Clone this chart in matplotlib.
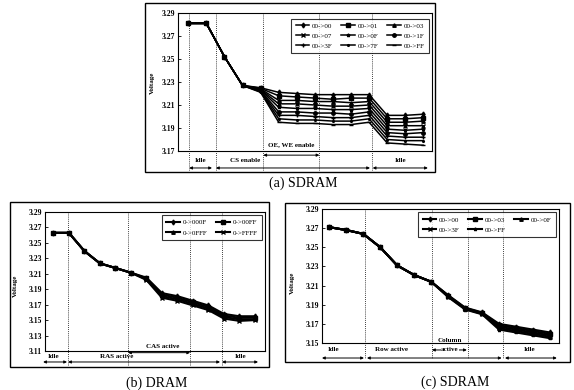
import matplotlib.pyplot as plt
import matplotlib.transforms as mtransforms
from matplotlib.patches import Rectangle

W, H = 574, 390
plt.rcParams['font.family'] = ['Liberation Serif', 'DejaVu Serif']

# ---- data (a) SDRAM, 00 -> xx
steps = list(range(14))
a_labels = ['00->00', '00->01', '00->03', '00->07', '00->0F',
            '00->1F', '00->3F', '00->7F', '00->FF']
a_start = [3.281, 3.281, 3.252, 3.227]
a_rest = [
    [3.2250, 3.221, 3.220, 3.219, 3.219, 3.219, 3.219, 3.201, 3.201, 3.202],
    [3.2245, 3.218, 3.217, 3.216, 3.215, 3.216, 3.216, 3.198, 3.198, 3.199],
    [3.2240, 3.214, 3.214, 3.213, 3.213, 3.212, 3.213, 3.195, 3.195, 3.196],
    [3.2235, 3.211, 3.211, 3.210, 3.209, 3.209, 3.210, 3.192, 3.192, 3.192],
    [3.2230, 3.208, 3.207, 3.207, 3.206, 3.206, 3.207, 3.189, 3.188, 3.189],
    [3.2225, 3.204, 3.204, 3.203, 3.203, 3.202, 3.204, 3.186, 3.185, 3.186],
    [3.2220, 3.201, 3.201, 3.200, 3.199, 3.199, 3.201, 3.183, 3.182, 3.182],
    [3.2215, 3.198, 3.197, 3.197, 3.196, 3.196, 3.198, 3.180, 3.179, 3.179],
    [3.2210, 3.195, 3.194, 3.194, 3.193, 3.193, 3.195, 3.177, 3.176, 3.175],
]

# ---- data (b) DRAM, 0 -> xxxx
b_labels = ['0->000F', '0->00FF', '0->0FFF', '0->FFFF']
b_start = [3.263, 3.263, 3.2395, 3.2235, 3.2175, 3.2114]
b_rest = [
    [3.205, 3.185, 3.181, 3.175, 3.169, 3.158, 3.155, 3.155],
    [3.204, 3.183, 3.179, 3.173, 3.167, 3.156, 3.153, 3.153],
    [3.203, 3.181, 3.177, 3.171, 3.165, 3.154, 3.151, 3.151],
    [3.202, 3.179, 3.175, 3.169, 3.163, 3.152, 3.149, 3.150],
]

# ---- data (c) SDRAM, 00 -> xx
c_labels = ['00->00', '00->03', '00->0F', '00->3F', '00->FF']
c_start = [3.271, 3.268, 3.264, 3.250, 3.231, 3.221, 3.214]
c_rest = [
    [3.200, 3.187, 3.182, 3.170, 3.167, 3.164, 3.161],
    [3.1995, 3.1865, 3.1815, 3.1685, 3.1655, 3.1625, 3.1595],
    [3.199, 3.186, 3.181, 3.167, 3.164, 3.161, 3.158],
    [3.1985, 3.1855, 3.1805, 3.1655, 3.1625, 3.1595, 3.1565],
    [3.198, 3.185, 3.180, 3.164, 3.161, 3.158, 3.155],
]

markers = ['d', 's', '^', 'x', '*', 'o', '+', '.', '_']

fig = plt.figure(figsize=(W / 100, H / 100), dpi=100)


def add_ax(l, t, r, b):
    return fig.add_axes([l / W, 1 - b / H, (r - l) / W, (b - t) / H])


def frame(l, t, r, b):
    fig.patches.append(Rectangle((l / W, 1 - b / H), (r - l) / W, (b - t) / H,
                                 transform=fig.transFigure, fill=False,
                                 lw=1.0, ec='black'))


def style(ax, lo, hi, xlim):
    ax.set_ylim(lo, hi)
    ax.set_xlim(*xlim)
    ticks = [round(lo + 0.02 * k, 2) for k in range(int(round((hi - lo) / 0.02)) + 1)]
    ax.set_yticks(ticks)
    ax.set_yticklabels(['%.2f' % t for t in ticks], fontsize=5.5, fontweight='bold')
    ax.set_xticks([])
    ax.tick_params(axis='y', length=2, width=0.6, direction='in', pad=2)
    for s in ax.spines.values():
        s.set_linewidth(0.8)


def vlines(ax, xs, low):
    tr = mtransforms.blended_transform_factory(ax.transData, ax.transAxes)
    for x in xs:
        ax.plot([x, x], [1, low], transform=tr, color='black', lw=0.6,
                ls=(0, (1, 1.5)), clip_on=False)


def arrow(ax, x1, x2, y, text=None, ty=None, tx=None, ha='center'):
    tr = mtransforms.blended_transform_factory(ax.transData, ax.transAxes)
    ax.annotate('', xy=(x2, y), xytext=(x1, y), xycoords=tr, textcoords=tr,
                arrowprops=dict(arrowstyle='<|-|>', lw=0.7, color='black',
                                mutation_scale=4, shrinkA=0, shrinkB=0),
                annotation_clip=False)
    if text:
        ax.text(tx if tx is not None else (x1 + x2) / 2, ty, text, transform=tr,
                ha=ha, va='center', fontsize=5, fontweight='bold', clip_on=False)


def legend(ax, order, ncol, bbox):
    h, l = ax.get_legend_handles_labels()
    leg = ax.legend([h[i] for i in order], [l[i] for i in order], ncol=ncol,
                    loc='upper right', bbox_to_anchor=bbox, fontsize=5,
                    frameon=True, fancybox=False, edgecolor='black',
                    borderpad=0.6, labelspacing=0.6, columnspacing=1.2,
                    handlelength=2.0, handletextpad=0.4)
    leg.get_frame().set_linewidth(0.8)


# ---------------- (a)
frame(145, 3, 435, 172)
axa = add_ax(178, 13, 432, 151)
for k, lab in enumerate(a_labels):
    axa.plot(steps, a_start + a_rest[k], color='black', lw=1.1,
             marker=markers[k], ms=2.5, label=lab)
style(axa, 3.17, 3.29, (-0.57, 13.48))
legend(axa, [0, 3, 6, 1, 4, 7, 2, 5, 8], 3, (1.0, 0.985))
vlines(axa, [0.05, 1.53, 4.15, 7.25, 10.15], -0.14)
arrow(axa, 0.05, 1.31, -0.123, 'Idle', -0.072)
arrow(axa, 1.53, 10.05, -0.123, 'CS enable', -0.072, tx=2.3, ha='left')
arrow(axa, 10.2, 13.25, -0.123, 'Idle', -0.072)
arrow(axa, 4.15, 7.25, -0.03, 'OE, WE enable', 0.045)
fig.text(152 / W, 1 - 83 / H, 'Voltage', rotation=90, fontsize=5,
         fontweight='bold', ha='center', va='center')
fig.text(303 / W, 1 - 183 / H, '(a) SDRAM', fontsize=10, ha='center', va='center')

# ---------------- (b)
frame(10, 202, 269, 367)
axb = add_ax(45, 212, 265, 351)
for k, lab in enumerate(b_labels):
    axb.plot(steps, b_start + b_rest[k], color='black', lw=1.5,
             marker=markers[k], ms=2.5, label=lab)
style(axb, 3.11, 3.29, (-0.54, 13.65))
legend(axb, [0, 2, 1, 3], 2, (1.0, 1.0))
vlines(axb, [0.97, 4.8, 8.82, 10.86], -0.1)
arrow(axb, -0.66, 0.88, -0.079, 'Idle', -0.036, tx=0.0)
arrow(axb, 0.95, 10.75, -0.079, 'RAS active', -0.036, tx=4.1)
arrow(axb, 10.88, 13.2, -0.079, 'Idle', -0.036, tx=12.05)
arrow(axb, 4.82, 8.82, -0.012, 'CAS active', 0.03, tx=7.08)
fig.text(15 / W, 1 - 286 / H, 'Voltage', rotation=90, fontsize=5,
         fontweight='bold', ha='center', va='center')
fig.text(157 / W, 1 - 383 / H, '(b) DRAM', fontsize=10, ha='center', va='center')

# ---------------- (c)
frame(285, 203, 570, 362)
axc = add_ax(322, 209, 559, 343)
for k, lab in enumerate(c_labels):
    axc.plot(steps, c_start + c_rest[k], color='black', lw=1.5,
             marker=markers[k], ms=2.5, label=lab)
style(axc, 3.15, 3.29, (-0.43, 13.53))
legend(axc, [0, 3, 1, 4, 2], 3, (1.0, 1.0))
vlines(axc, [2.1, 6.03, 8.15, 10.25], -0.12)
arrow(axc, -0.43, 2.04, -0.112, 'Idle', -0.052, tx=0.22)
arrow(axc, 2.22, 10.15, -0.112, 'Row active', -0.052, tx=3.69)
arrow(axc, 10.35, 13.4, -0.112, 'Idle', -0.052, tx=11.8)
arrow(axc, 6.05, 8.1, -0.052)
trc = mtransforms.blended_transform_factory(axc.transData, axc.transAxes)
axc.text(7.1, 0.015, 'Column', transform=trc, ha='center', va='center',
         fontsize=5, fontweight='bold', clip_on=False)
axc.text(7.1, -0.052, 'active', transform=trc, ha='center', va='center',
         fontsize=5, fontweight='bold', clip_on=False,
         bbox=dict(fc='white', ec='none', pad=0.3))
fig.text(292 / W, 1 - 283 / H, 'Voltage', rotation=90, fontsize=5,
         fontweight='bold', ha='center', va='center')
fig.text(455 / W, 1 - 382 / H, '(c) SDRAM', fontsize=10, ha='center', va='center')

fig.savefig('out.png', dpi=100)
